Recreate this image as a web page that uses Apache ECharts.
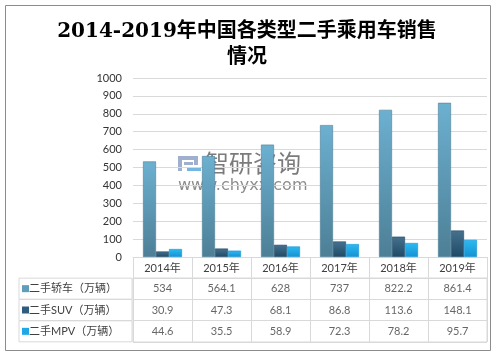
<!DOCTYPE html>
<html>
<head>
<meta charset="utf-8">
<script src="https://cdn.jsdelivr.net/npm/echarts@6/dist/echarts.min.js"></script>
<style>
  html, body { margin: 0; padding: 0; background: #fff; }
  #chart { width: 494px; height: 352px; }
</style>
</head>
<body>
<div id="chart"></div>
<script>
// 数据
var years = ['2014年', '2015年', '2016年', '2017年', '2018年', '2019年'];
var seriesNames = ['二手轿车（万辆）', '二手SUV（万辆）', '二手MPV（万辆）'];
var sedan = [534, 564.1, 628, 737, 822.2, 861.4];
var suv = [30.9, 47.3, 68.1, 86.8, 113.6, 148.1];
var mpv = [44.6, 35.5, 58.9, 72.3, 78.2, 95.7];
var yTicks = [0, 100, 200, 300, 400, 500, 600, 700, 800, 900, 1000];

var colors = ['#5f9dba', '#2f5d7d', '#1fa8e6'];
var gradients = [
  ['#6cb0d0', '#4d7f96'],
  ['#46728f', '#1f4a66'],
  ['#2cbaf2', '#1592d2']
];
var allValues = [sedan, suv, mpv];

function grad(c) {
  return new echarts.graphic.LinearGradient(0, 0, 0, 1, [
    { offset: 0, color: c[0] },
    { offset: 1, color: c[1] }
  ]);
}

// 表格单元格 (x: 年份, y: 行)
var cellData = [];
allValues.forEach(function (arr, r) {
  arr.forEach(function (v, i) {
    cellData.push([i, r, v]);
  });
});

var chart = echarts.init(document.getElementById('chart'));

var barSeries = allValues.map(function (arr, k) {
  return {
    name: seriesNames[k],
    type: 'bar',
    xAxisIndex: 0,
    yAxisIndex: 0,
    barWidth: 13,
    barGap: '0%',
    itemStyle: {
      color: grad(gradients[k]),
      borderColor: gradients[k][1],
      borderWidth: 0.6
    },
    data: arr
  };
});

var option = {
  backgroundColor: '#fff',
  animation: false,
  title: {
    text: '2014-2019年中国各类型二手乘用车销售\n情况',
    left: 'center',
    top: 14,
    textStyle: {
      fontFamily: '"DejaVu Serif", "Noto Sans CJK SC", serif',
      fontSize: 20,
      fontWeight: 'bold',
      color: '#000',
      lineHeight: 26
    }
  },
  grid: [
    { left: 133, right: 7, top: 78, bottom: 95 },
    { left: 133, right: 7, top: 278, bottom: 10, show: true, borderColor: '#d9d9d9', borderWidth: 1 }
  ],
  xAxis: [
    {
      gridIndex: 0,
      type: 'category',
      data: years,
      axisLine: { lineStyle: { color: '#d9d9d9' } },
      axisTick: { show: true, length: 21, lineStyle: { color: '#d9d9d9' } },
      axisLabel: { margin: 6, color: '#404040', fontSize: 11, fontFamily: 'Lato, "Noto Sans CJK SC", sans-serif' }
    },
    {
      gridIndex: 1,
      type: 'category',
      data: years,
      axisLine: { show: false },
      axisTick: { show: false },
      axisLabel: { show: false },
      splitLine: { show: true, lineStyle: { color: '#d9d9d9' } }
    }
  ],
  yAxis: [
    {
      gridIndex: 0,
      type: 'value',
      min: yTicks[0],
      max: yTicks[yTicks.length - 1],
      interval: 100,
      axisLine: { show: false },
      axisTick: { show: false },
      axisLabel: {
        color: '#333',
        fontSize: 11,
        margin: 11,
        fontFamily: 'Lato, sans-serif',
        formatter: function (v) { return String(v); }
      },
      splitLine: { lineStyle: { color: '#d9d9d9' } }
    },
    {
      gridIndex: 1,
      type: 'category',
      inverse: true,
      data: seriesNames,
      axisLine: { show: false },
      axisTick: { show: false },
      splitLine: { show: true, lineStyle: { color: '#d9d9d9' } },
      axisLabel: {
        interval: 0,
        align: 'left',
        margin: 114,
        width: 110,
        height: 21,
        padding: [0, 0, 0, 3],
        borderColor: '#d9d9d9',
        borderWidth: 1,
        lineHeight: 21,
        fontSize: 11,
        color: '#404040',
        fontFamily: 'Lato, "Noto Sans CJK SC", sans-serif',
        formatter: function (v, i) {
          return '{m' + i + '|}' + v;
        },
        rich: {
          m0: { width: 7, height: 7, backgroundColor: colors[0], padding: 0 },
          m1: { width: 7, height: 7, backgroundColor: colors[1], padding: 0 },
          m2: { width: 7, height: 7, backgroundColor: colors[2], padding: 0 }
        }
      }
    }
  ],
  graphic: [
    {
      type: 'rect',
      left: 3,
      top: 3,
      silent: true,
      z: -1,
      shape: { width: 485, height: 345 },
      style: { fill: 'none', stroke: '#8c8c8c', lineWidth: 1 }
    },
    {
      type: 'group',
      left: 178,
      top: 156,
      silent: true,
      children: [
        { type: 'rect', shape: { x: 0, y: 0, width: 20, height: 4 }, style: { fill: '#9fb0cf' } },
        { type: 'rect', shape: { x: 0, y: 0, width: 4, height: 15 }, style: { fill: '#9fb0cf' } },
        { type: 'rect', shape: { x: 16, y: 0, width: 4, height: 9 }, style: { fill: '#9fb0cf' } },
        { type: 'rect', shape: { x: 6, y: 6, width: 9, height: 3 }, style: { fill: '#9fb0cf' } },
        { type: 'rect', shape: { x: 9, y: 11, width: 14, height: 4 }, style: { fill: '#74b6e2' } }
      ]
    },
    {
      type: 'text',
      left: 205,
      top: 151,
      silent: true,
      style: {
        text: '智研咨询',
        font: '24px "Noto Sans CJK SC"',
        fill: 'rgba(100,100,100,0.85)'
      }
    },
    {
      type: 'text',
      left: 178,
      top: 178,
      silent: true,
      style: {
        text: 'www.chyxx.com',
        font: '16px "DejaVu Sans"',
        fill: 'rgba(120,120,120,0.85)'
      }
    }
  ],
  series: barSeries.concat([
    {
      type: 'scatter',
      xAxisIndex: 1,
      yAxisIndex: 1,
      symbolSize: 0,
      silent: true,
      label: {
        show: true,
        position: 'inside',
        color: '#404040',
        fontSize: 11,
        fontFamily: 'Lato, sans-serif',
        formatter: function (p) { return p.value[2]; }
      },
      data: cellData
    }
  ])
};

chart.setOption(option);
</script>
</body>
</html>
